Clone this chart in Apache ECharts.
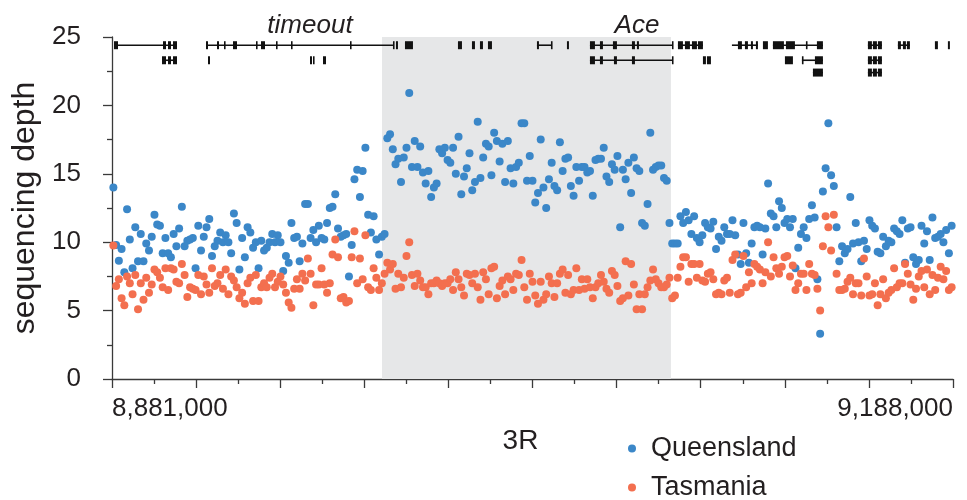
<!DOCTYPE html>
<html>
<head>
<meta charset="utf-8">
<script src="https://cdn.jsdelivr.net/npm/echarts@6/dist/echarts.min.js"></script>
<style>
html, body { margin: 0; padding: 0; background: #fff; }
#chart { width: 967px; height: 500px; }
</style>
</head>
<body>
<div id="chart"></div>
<script>
// region on 3R, depth in 1 kb windows
var regionStart = 8881000;
var regionEnd = 9188000;
var windowSize = 1000;
var xTickLabels = ['8,881,000', '9,188,000'];
var yTicks = [0, 5, 10, 15, 20, 25];
var seriesNames = ['Queensland', 'Tasmania'];

var queensland = [
    14.0, 9.8, 8.65, 9.5, 7.8, 12.4, 10.2, 8.1, 11.1, 8.6, 10.6, 8.6, 9.9, 9.4, 10.4, 12.0, 11.3, 11.2, 9.2, 10.3,
    9.2, 8.9, 10.6, 9.7, 11.0, 12.6, 9.7, 10.1, 10.2, 10.3, 8.1, 11.2, 9.4, 10.4, 11.1, 11.7, 9.0, 9.7, 10.1, 10.7,
    10.0, 10.5, 10.0, 9.2, 12.1, 11.4, 8.0, 10.3, 8.9, 11.1,
    10.7, 9.6, 10.0, 8.1, 10.1, 9.4, 9.6, 10.0, 10.6, 10.0, 10.5, 10.0, 7.9, 9.0, 8.5, 11.4, 10.3, 10.4, 8.6, 9.9,
    12.8, 12.8, 10.3, 10.9, 10.0, 11.2, 10.3, 10.2, 11.4, 12.5, 12.6, 13.5, 11.0, 10.4, 10.5, 10.6, 7.5, 9.8, 14.6, 15.3,
    13.3, 15.2, 16.9, 12.0, 10.7, 11.9, 10.2, 9.1, 10.4, 10.6,
    17.6, 17.9, 16.8, 15.7, 16.1, 14.4, 16.2, 16.9, 20.9, 15.5, 17.4, 15.5, 17.0, 15.1, 14.3, 15.2, 13.3, 14.0, 14.3, 16.8,
    16.5, 16.9, 16.0, 15.8, 16.9, 15.0, 17.7, 13.5, 14.8, 15.4, 16.5, 13.8, 14.4, 18.8, 14.7, 16.2, 17.2, 17.0, 14.9, 18.0,
    17.4, 15.9, 17.2, 14.4, 17.4, 15.4, 14.3, 15.5, 15.8, 18.7, 18.7, 14.5, 16.3,
    14.5, 12.9, 13.6, 17.5, 14.0, 12.5, 14.6, 15.8, 14.1, 13.8, 17.3, 15.2, 16.1, 16.2, 14.1, 13.4, 15.5, 14.5, 15.5, 15.5,
    15.1, 15.2, 13.4, 16.0, 16.1, 16.1, 16.9, 14.8, 14.4, 15.7, 15.3, 16.3, 11.1, 15.3, 14.6, 15.8, 13.6, 16.2, 15.4, 15.2,
    11.4, 11.2, 12.8, 18.0, 15.3, 15.5, 15.6, 15.6, 14.7, 14.5, 11.4, 9.9,
    9.9, 9.9, 11.9, 11.4, 12.2, 11.6, 10.6, 11.9, 10.3, 10.0, 10.5, 11.4, 11.1, 11.0, 11.5, 9.5, 10.4, 10.1, 11.1, 10.6,
    10.6, 11.6, 10.5, 9.1, 8.4, 11.4, 9.2, 8.5, 9.9, 11.1, 11.2, 11.1, 9.1, 11.0, 14.3, 12.1, 11.9, 11.1, 13.0, 12.5,
    11.4, 11.7, 11.1, 11.7, 8.1, 9.6, 10.6, 11.1, 10.3, 11.7, 12.7,
    11.8, 7.3, 3.3, 13.7, 15.4, 18.7, 14.9, 14.1, 11.1, 8.6, 9.7, 9.2, 9.5, 13.3, 9.9, 11.4, 10.0, 8.6, 10.1, 9.5,
    11.6, 11.2, 11.0, 9.3, 9.2, 10.4, 9.7, 10.1, 10.0, 11.0, 10.8, 10.6, 11.6, 8.5, 11.0, 11.1, 8.9, 8.4, 8.7, 11.2,
    9.9, 10.8, 8.7, 11.8, 10.3, 10.4, 10.6, 10.0, 10.9, 9.2, 11.2
];

var tasmania = [
    9.75, 6.8, 7.3, 5.9, 5.4, 7.5, 7.0, 6.2, 7.6, 5.1, 7.0, 5.8, 7.4, 6.3, 6.9, 8.0, 7.8, 7.4, 6.7, 8.1,
    6.5, 8.1, 8.0, 7.1, 7.0, 8.4, 7.6, 6.0, 6.7, 6.6, 6.5, 7.6, 6.2, 7.5, 6.9, 6.3, 8.1, 6.8, 7.0, 7.6,
    6.6, 8.0, 6.2, 7.5, 7.2, 6.7, 5.9, 6.3, 5.5, 7.0,
    7.4, 5.7, 7.6, 5.7, 6.7, 7.0, 6.7, 7.4, 7.7, 6.7, 7.1, 7.5, 6.9, 6.3, 5.6, 5.2, 6.6, 7.3, 6.6, 7.7,
    7.2, 8.8, 7.7, 5.4, 6.9, 6.9, 8.1, 6.9, 6.3, 7.0, 9.1, 10.2, 8.9, 5.9, 6.0, 5.6, 5.7, 8.9, 10.8, 7.0,
    8.8, 7.3, 10.5, 6.7, 6.5, 8.1, 7.4, 6.5, 7.0, 7.7, 8.5,
    8.0, 8.4, 6.6, 7.7, 6.7, 7.4, 9.0, 10.0, 7.6, 6.8, 7.7, 7.2, 6.7, 6.7, 6.2, 7.0, 7.0, 7.2, 7.0, 6.8,
    7.0, 7.0, 7.3, 6.5, 7.8, 7.3, 6.7, 6.1, 7.7, 7.6, 7.0, 7.7, 6.7, 5.8, 7.8, 7.3, 6.2, 8.1, 8.2, 5.9,
    6.8, 7.2, 6.2, 7.5, 7.3, 6.5, 7.7, 7.6, 8.7, 6.7, 5.8, 7.7,
    7.1, 6.1, 5.5, 7.1, 5.8, 6.2, 7.5, 7.0, 6.0, 7.0, 7.7, 8.0, 6.3, 7.6, 6.2, 6.5, 8.1, 6.5, 7.3, 6.6,
    7.3, 6.7, 5.9, 6.7, 7.0, 7.6, 7.1, 6.6, 6.3, 7.9, 7.6, 6.8, 5.7, 5.9, 8.6, 6.1, 8.4, 6.9, 5.1, 6.2,
    5.1, 6.2, 6.7, 7.2, 8.0, 7.3, 7.0, 6.7, 6.7, 6.9, 7.4, 5.9,
    6.1, 7.4, 8.2, 8.9, 8.9, 7.1, 8.4, 8.4, 7.4, 8.4, 7.2, 7.1, 7.7, 7.8, 7.3, 6.2, 6.3, 6.2, 7.2, 7.4,
    6.3, 8.7, 9.1, 6.2, 6.3, 9.0, 6.7, 7.8, 7.0, 8.4, 8.2, 8.0, 7.0, 7.8, 10.0, 7.5, 8.9, 8.1, 7.7, 8.2,
    8.9, 9.0, 7.5, 8.3, 6.5, 7.0, 7.7, 7.7, 6.5, 8.4, 7.7,
    7.6, 6.6, 5.0, 9.7, 11.9, 11.1, 9.4, 12.0, 7.7, 6.5, 6.5, 6.6, 7.1, 7.4, 6.2, 7.0, 7.0, 6.1, 8.8, 7.5,
    6.1, 6.2, 7.0, 5.4, 6.2, 7.3, 5.9, 6.3, 6.5, 8.1, 6.7, 7.0, 7.0, 8.4, 7.7, 6.9, 5.8, 6.6, 7.5, 7.9,
    6.7, 8.0, 6.2, 7.6, 6.5, 7.4, 8.2, 7.3, 7.9, 6.5, 6.7
];

// shaded interval
var highlight = [8979550, 9085035];

// gene models: [start, end, row]
var geneRows = [24.4, 23.3, 22.4];
var introns = [
    [8882095, 8904725, 0], [8915310, 8983565, 0], [9036125, 9041600, 0], [9055470, 9085765, 0],
    [9087590, 9096715, 0], [9107300, 9116790, 0], [9122265, 9140515, 0], [9156940, 9162050, 0],
    [9167890, 9172270, 0],
    [8899250, 8904725, 1], [9055470, 9085765, 1], [9132850, 9140515, 1], [9156940, 9162050, 1],
    [9136865, 9140515, 2], [9156940, 9162050, 2]
];
var exons = [
    [8881730, 8883190, 0], [8899615, 8900710, 0], [8901440, 8902535, 0], [8903265, 8904725, 0],
    [8915310, 8916040, 0], [8919325, 8920055, 0], [8921880, 8922245, 0], [8925165, 8926625, 0],
    [8933560, 8933925, 0], [8935385, 8936845, 0], [8940860, 8941225, 0], [8946335, 8946700, 0],
    [8967870, 8968235, 0], [8983565, 8983930, 0], [8984660, 8985390, 0], [8987945, 8990865, 0],
    [9007290, 9008750, 0], [9012400, 9013495, 0], [9015320, 9016415, 0], [9018240, 9019700, 0],
    [9036125, 9036855, 0], [9041235, 9041600, 0], [9047075, 9047805, 0], [9055470, 9057295, 0],
    [9059120, 9060215, 0], [9063865, 9065325, 0], [9070800, 9071895, 0], [9072625, 9073355, 0],
    [9085400, 9085765, 0], [9087590, 9089415, 0], [9090145, 9091970, 0], [9092700, 9094525, 0],
    [9094890, 9096715, 0], [9109490, 9110950, 0], [9112045, 9113140, 0], [9114235, 9114965, 0],
    [9116060, 9116790, 0], [9118615, 9120440, 0], [9122265, 9126280, 0], [9127010, 9130295, 0],
    [9134310, 9134675, 0], [9138325, 9140515, 0], [9156940, 9158400, 0], [9158765, 9160225, 0],
    [9160590, 9162050, 0], [9167890, 9168985, 0], [9169715, 9170810, 0], [9171175, 9172270, 0],
    [9181395, 9182490, 0], [9186140, 9186870, 0],
    [8899250, 8900710, 1], [8901440, 8902535, 1], [8903265, 8904725, 1], [8916040, 8916770, 1],
    [8953270, 8954000, 1], [8954365, 8954730, 1], [8958015, 8959110, 1], [9055470, 9057295, 1],
    [9059120, 9060215, 1], [9064230, 9065325, 1], [9070800, 9071895, 1], [9085400, 9085765, 1],
    [9096715, 9097810, 1], [9098175, 9099635, 1], [9126645, 9129565, 1], [9132850, 9133215, 1],
    [9137595, 9140515, 1], [9156940, 9158400, 1], [9158765, 9160225, 1], [9160590, 9162050, 1],
    [9136865, 9140515, 2], [9156940, 9158400, 2], [9158765, 9160225, 2], [9160590, 9162050, 2]
];
var geneNames = ['timeout', 'Ace'];
var geneNamePos = [8953270, 9072625];
var geneNameY = 25.8;

(function () {
    var font = '"Liberation Sans", Arial, Helvetica, sans-serif';
    var textColor = '#231f20';
    var axisColor = '#3a3a3a';

    function windowPoints(values) {
        return values.map(function (v, i) {
            return [i * windowSize + windowSize / 2, v];
        });
    }

    var geneData = [];
    introns.forEach(function (g) {
        geneData.push([g[0] - regionStart, g[1] - regionStart, geneRows[g[2]], 0]);
    });
    exons.forEach(function (g) {
        geneData.push([g[0] - regionStart, g[1] - regionStart, geneRows[g[2]], 1]);
    });

    var labelData = geneNames.map(function (n, i) {
        return [geneNamePos[i] - regionStart, geneNameY, n];
    });

    var myChart = echarts.init(document.getElementById('chart'));
    var span = regionEnd - regionStart;

    var option = {
        animation: false,
        textStyle: { fontFamily: font },
        grid: { left: 112, right: 14, top: 37, bottom: 121, containLabel: false },
        legend: {
            data: seriesNames,
            orient: 'vertical',
            left: 623,
            top: 430,
            width: 250,
            height: 120,
            icon: 'circle',
            itemWidth: 28,
            itemHeight: 8,
            itemGap: 12,
            textStyle: { fontSize: 27, color: textColor, fontFamily: font }
        },
        xAxis: {
            type: 'value',
            min: 0,
            max: span,
            interval: span / 10,
            name: '3R',
            nameLocation: 'middle',
            nameGap: 46,
            nameTextStyle: { fontSize: 28, color: textColor, padding: [0, 24, 0, 0] },
            splitLine: { show: false },
            axisLine: { lineStyle: { color: axisColor, width: 1.3 } },
            axisTick: { length: 9, lineStyle: { color: axisColor, width: 1.3 } },
            minorTick: { show: true, splitNumber: 2, length: 5, lineStyle: { color: axisColor, width: 1.3 } },
            axisLabel: {
                fontSize: 26,
                color: textColor,
                margin: 17,
                showMinLabel: true,
                showMaxLabel: true,
                alignMinLabel: 'left',
                alignMaxLabel: 'right',
                formatter: function (v) {
                    if (v === 0) return xTickLabels[0];
                    if (v === span) return xTickLabels[1];
                    return '';
                }
            }
        },
        yAxis: {
            type: 'value',
            min: yTicks[0],
            max: yTicks[yTicks.length - 1],
            interval: yTicks[1] - yTicks[0],
            offset: 17,
            name: 'sequencing depth',
            nameLocation: 'middle',
            nameGap: 41,
            nameTextStyle: { fontSize: 32, color: textColor },
            splitLine: { show: false },
            axisLine: { show: true, lineStyle: { color: axisColor, width: 1.3 } },
            axisTick: { show: true, length: 9, lineStyle: { color: axisColor, width: 1.3 } },
            minorTick: { show: true, splitNumber: 2, length: 5, lineStyle: { color: axisColor, width: 1.3 } },
            axisLabel: { fontSize: 26, color: textColor, margin: 14 }
        },
        series: [
            {
                type: 'custom',
                silent: true,
                z: 1,
                data: [[highlight[0] - regionStart, highlight[1] - regionStart]],
                encode: { x: [0, 1] },
                renderItem: function (params, api) {
                    var a = api.coord([api.value(0), yTicks[yTicks.length - 1]]);
                    var b = api.coord([api.value(1), 0]);
                    return {
                        type: 'rect',
                        shape: { x: a[0], y: a[1], width: b[0] - a[0], height: b[1] - a[1] },
                        style: { fill: '#e6e7e8' }
                    };
                }
            },
            {
                name: seriesNames[0],
                type: 'scatter',
                z: 3,
                symbolSize: 8,
                itemStyle: { color: '#3b87c8', opacity: 1 },
                data: windowPoints(queensland)
            },
            {
                name: seriesNames[1],
                type: 'scatter',
                z: 3,
                symbolSize: 8,
                itemStyle: { color: '#f36f4f', opacity: 1 },
                data: windowPoints(tasmania)
            },
            {
                type: 'custom',
                silent: true,
                z: 4,
                clip: false,
                data: geneData,
                encode: { x: [0, 1], y: 2 },
                renderItem: function (params, api) {
                    var s = api.coord([api.value(0), api.value(2)]);
                    var e = api.coord([api.value(1), api.value(2)]);
                    if (api.value(3) === 1) {
                        return {
                            type: 'rect',
                            shape: { x: s[0], y: s[1] - 4, width: Math.max(e[0] - s[0], 1.6), height: 8 },
                            style: { fill: '#111' }
                        };
                    }
                    return {
                        type: 'line',
                        shape: { x1: s[0], y1: s[1], x2: e[0], y2: e[1] },
                        style: { stroke: '#111', lineWidth: 1.6 }
                    };
                }
            },
            {
                type: 'custom',
                silent: true,
                z: 4,
                clip: false,
                data: labelData,
                encode: { x: 0, y: 1 },
                renderItem: function (params, api) {
                    var p = api.coord([api.value(0), api.value(1)]);
                    return {
                        type: 'text',
                        x: p[0],
                        y: p[1],
                        style: {
                            text: labelData[params.dataIndex][2],
                            fontSize: 26,
                            fontStyle: 'italic',
                            fontFamily: font,
                            fill: textColor,
                            align: 'center',
                            verticalAlign: 'middle'
                        }
                    };
                }
            }
        ]
    };
    myChart.setOption(option);
})();
</script>
</body>
</html>
